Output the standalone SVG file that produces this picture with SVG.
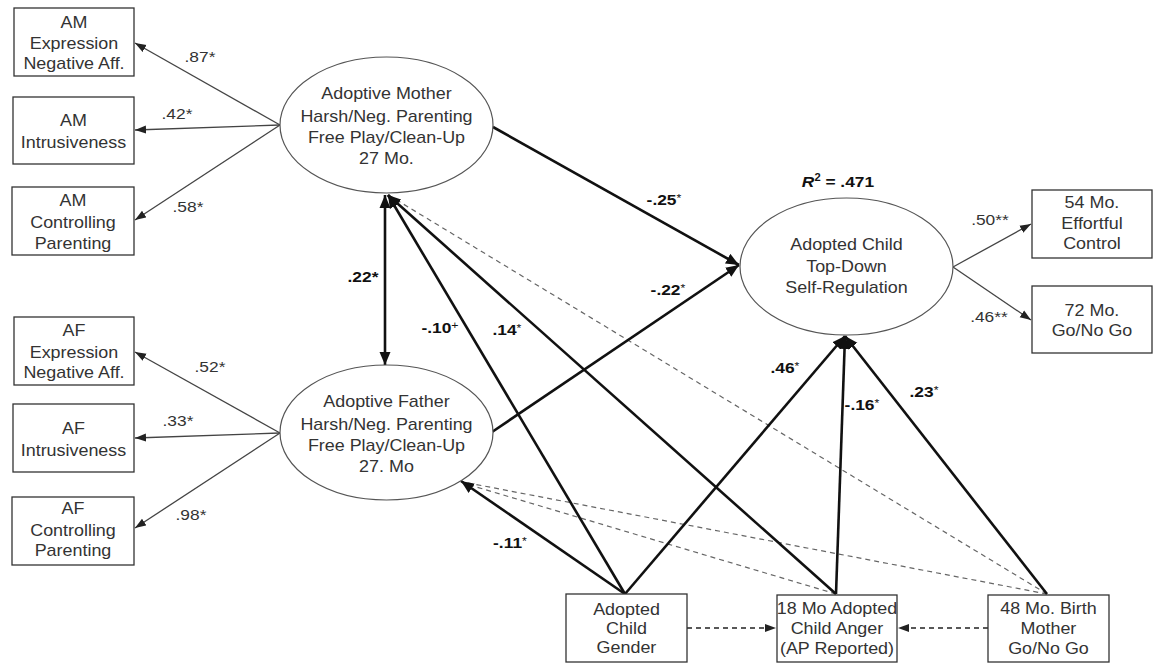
<svg xmlns="http://www.w3.org/2000/svg" width="1157" height="667" viewBox="0 0 1157 667">
  <style>
    text { font-family: "Liberation Sans", Arial, sans-serif; text-anchor: middle; transform-box: fill-box; transform-origin: center; transform: scaleX(1.12); }
    .nt { font-size: 16px; fill: #333; }
    .lb { font-size: 15.5px; fill: #333; }
    .bl { font-size: 15.5px; font-weight: bold; fill: #111; }
    .sm { font-size: 11px; font-weight: normal; }
    .box { fill: #fff; stroke: #333; stroke-width: 1.3; }
    .ell { fill: #fff; stroke: #555; stroke-width: 1.2; }
    .thin { stroke: #444; stroke-width: 1.3; fill: none; marker-end: url(#ahs); }
    .thick { stroke: #111; stroke-width: 2.6; fill: none; marker-end: url(#ah); }
    .cov { stroke: #666; stroke-width: 1.2; fill: none; stroke-dasharray: 5 4; }
    .dash { stroke: #222; stroke-width: 1.3; fill: none; stroke-dasharray: 5 4; marker-end: url(#ahs); }
  </style>
  <defs>
    <marker id="ah" markerUnits="userSpaceOnUse" markerWidth="14" markerHeight="12" refX="13" refY="6" orient="auto-start-reverse">
      <path d="M0,0.5 L13,6 L0,11.5 z" fill="#111"/>
    </marker>
    <marker id="ahs" markerUnits="userSpaceOnUse" markerWidth="11" markerHeight="9" refX="11" refY="4.5" orient="auto">
      <path d="M0,0.5 L11,4.5 L0,8.5 z" fill="#222"/>
    </marker>
  </defs>
  <rect width="1157" height="667" fill="#fff"/>

  <!-- connectors -->
  <g id="connectors">
    <!-- covariances (dashed, no heads) -->
    <line class="cov" x1="1047" y1="594" x2="390" y2="196"/>
    <line class="cov" x1="1047" y1="594" x2="463" y2="482"/>
    <line class="cov" x1="836" y1="594" x2="463" y2="483"/>
    <!-- mother indicators -->
    <line class="thin" x1="280" y1="125" x2="135" y2="43"/>
    <line class="thin" x1="280" y1="125" x2="135" y2="130"/>
    <line class="thin" x1="280" y1="125" x2="135" y2="220"/>
    <!-- father indicators -->
    <line class="thin" x1="280" y1="433" x2="135" y2="352"/>
    <line class="thin" x1="280" y1="433" x2="135" y2="438"/>
    <line class="thin" x1="280" y1="433" x2="135" y2="528"/>
    <!-- child indicators -->
    <line class="thin" x1="953" y1="267" x2="1031" y2="224"/>
    <line class="thin" x1="953" y1="267" x2="1031" y2="320"/>
    <!-- structural paths -->
    <line class="thick" x1="493" y1="127" x2="739" y2="265"/>
    <line class="thick" x1="492" y1="432" x2="739" y2="265"/>
    <line class="thick" x1="385" y1="195" x2="385" y2="365" style="marker-start: url(#ah);"/>
    <line class="thick" x1="625" y1="594" x2="388" y2="195"/>
    <line class="thick" x1="836" y1="594" x2="388" y2="195"/>
    <line class="thick" x1="625" y1="594" x2="461" y2="481"/>
    <line class="thick" x1="625" y1="594" x2="845" y2="336"/>
    <line class="thick" x1="836" y1="594" x2="845" y2="336"/>
    <line class="thick" x1="1047" y1="594" x2="845" y2="336"/>
    <!-- predictors among observed variables -->
    <line class="dash" x1="687" y1="628" x2="776" y2="628"/>
    <line class="dash" x1="988" y1="628" x2="898" y2="628"/>
  </g>

  <!-- coefficient labels -->
  <g id="labels">
    <text class="lb" x="200" y="62">.87*</text>
    <text class="lb" x="177" y="119">.42*</text>
    <text class="lb" x="188" y="212">.58*</text>
    <text class="lb" x="210" y="372">.52*</text>
    <text class="lb" x="178" y="426">.33*</text>
    <text class="lb" x="191" y="520">.98*</text>
    <text class="lb" x="990" y="225">.50**</text>
    <text class="lb" x="989" y="322">.46**</text>
    <text class="bl" x="664" y="205">-.25<tspan class="sm" dy="-3">*</tspan></text>
    <text class="bl" x="668" y="295">-.22<tspan class="sm" dy="-3">*</tspan></text>
    <text class="bl" x="363" y="282">.22*</text>
    <text class="bl" x="440" y="333">-.10<tspan class="sm" dy="-4">+</tspan></text>
    <text class="bl" x="507" y="335">.14<tspan class="sm" dy="-3">*</tspan></text>
    <text class="bl" x="510" y="548">-.11<tspan class="sm" dy="-3">*</tspan></text>
    <text class="bl" x="785" y="373">.46<tspan class="sm" dy="-3">*</tspan></text>
    <text class="bl" x="862" y="410">-.16<tspan class="sm" dy="-3">*</tspan></text>
    <text class="bl" x="924" y="397">.23<tspan class="sm" dy="-3">*</tspan></text>
    <text class="bl" x="838" y="187"><tspan font-style="italic">R</tspan><tspan font-size="10" dy="-6">2</tspan><tspan dy="6"> = .471</tspan></text>
  </g>

  <!-- mother indicators -->
  <g id="am-expression">
    <rect class="box" x="14" y="8" width="120" height="68"/>
    <text class="nt" x="74" y="28">AM</text>
    <text class="nt" x="74" y="49">Expression</text>
    <text class="nt" x="74" y="69">Negative Aff.</text>
  </g>
  <g id="am-intrusiveness">
    <rect class="box" x="13" y="97" width="121" height="67"/>
    <text class="nt" x="73.5" y="126">AM</text>
    <text class="nt" x="73.5" y="148">Intrusiveness</text>
  </g>
  <g id="am-controlling">
    <rect class="box" x="12" y="187" width="122" height="68"/>
    <text class="nt" x="73" y="206">AM</text>
    <text class="nt" x="73" y="228">Controlling</text>
    <text class="nt" x="73" y="249">Parenting</text>
  </g>

  <!-- father indicators -->
  <g id="af-expression">
    <rect class="box" x="14" y="317" width="120" height="68"/>
    <text class="nt" x="74" y="336">AF</text>
    <text class="nt" x="74" y="358">Expression</text>
    <text class="nt" x="74" y="378">Negative Aff.</text>
  </g>
  <g id="af-intrusiveness">
    <rect class="box" x="13" y="404" width="121" height="68"/>
    <text class="nt" x="73.5" y="434">AF</text>
    <text class="nt" x="73.5" y="456">Intrusiveness</text>
  </g>
  <g id="af-controlling">
    <rect class="box" x="12" y="497" width="122" height="68"/>
    <text class="nt" x="73" y="514">AF</text>
    <text class="nt" x="73" y="536">Controlling</text>
    <text class="nt" x="73" y="556">Parenting</text>
  </g>

  <!-- latent factors -->
  <g id="mother-parenting">
    <ellipse class="ell" cx="386.5" cy="125" rx="106.5" ry="68"/>
    <text class="nt" x="386.5" y="99">Adoptive Mother</text>
    <text class="nt" x="386.5" y="122">Harsh/Neg. Parenting</text>
    <text class="nt" x="386.5" y="143">Free Play/Clean-Up</text>
    <text class="nt" x="386.5" y="164">27 Mo.</text>
  </g>
  <g id="father-parenting">
    <ellipse class="ell" cx="386.5" cy="432.5" rx="106.5" ry="67.5"/>
    <text class="nt" x="386.5" y="407">Adoptive Father</text>
    <text class="nt" x="386.5" y="430">Harsh/Neg. Parenting</text>
    <text class="nt" x="386.5" y="451">Free Play/Clean-Up</text>
    <text class="nt" x="386.5" y="472">27. Mo</text>
  </g>
  <g id="child-self-regulation">
    <ellipse class="ell" cx="846.5" cy="266.5" rx="106.5" ry="68.5"/>
    <text class="nt" x="846.5" y="250">Adopted Child</text>
    <text class="nt" x="846.5" y="272">Top-Down</text>
    <text class="nt" x="846.5" y="293">Self-Regulation</text>
  </g>

  <!-- child outcomes -->
  <g id="effortful-control">
    <rect class="box" x="1032" y="190" width="120" height="68"/>
    <text class="nt" x="1092" y="208">54 Mo.</text>
    <text class="nt" x="1092" y="229">Effortful</text>
    <text class="nt" x="1092" y="249">Control</text>
  </g>
  <g id="go-no-go-72">
    <rect class="box" x="1032" y="286" width="120" height="67"/>
    <text class="nt" x="1092" y="316">72 Mo.</text>
    <text class="nt" x="1092" y="336">Go/No Go</text>
  </g>

  <!-- observed predictors -->
  <g id="child-gender">
    <rect class="box" x="566" y="594" width="121" height="68"/>
    <text class="nt" x="626.5" y="615">Adopted</text>
    <text class="nt" x="626.5" y="634">Child</text>
    <text class="nt" x="626.5" y="653">Gender</text>
  </g>
  <g id="child-anger">
    <rect class="box" x="777" y="595" width="120" height="67"/>
    <text class="nt" x="837" y="614">18 Mo Adopted</text>
    <text class="nt" x="837" y="634">Child Anger</text>
    <text class="nt" x="837" y="654">(AP Reported)</text>
  </g>
  <g id="birth-mother">
    <rect class="box" x="988" y="595" width="121" height="67"/>
    <text class="nt" x="1048.5" y="614">48 Mo. Birth</text>
    <text class="nt" x="1048.5" y="634">Mother</text>
    <text class="nt" x="1048.5" y="654">Go/No Go</text>
  </g>
</svg>
